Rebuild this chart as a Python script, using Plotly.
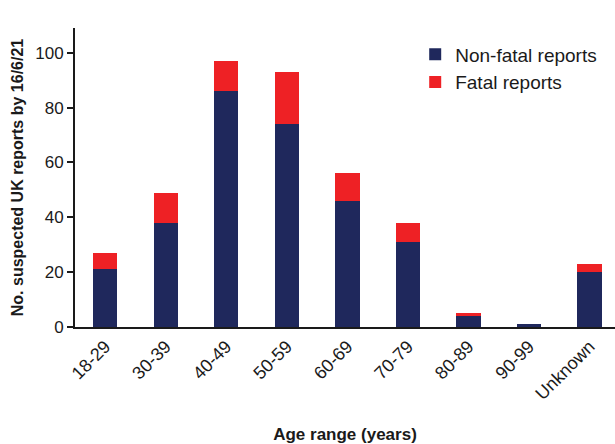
import plotly.graph_objects as go

categories = ["18-29", "30-39", "40-49", "50-59", "60-69", "70-79", "80-89", "90-99", "Unknown"]
non_fatal = [21, 38, 86, 74, 46, 31, 4, 1, 20]
fatal = [6, 11, 11, 19, 10, 7, 1, 0, 3]

NAVY = "#1f285c"
RED = "#ee2125"
FONT = "Liberation Sans, Arial, sans-serif"

fig = go.Figure()
fig.add_trace(go.Bar(x=categories, y=non_fatal, name="Non-fatal reports",
                     marker=dict(color=NAVY, line=dict(width=0)), width=0.4))
fig.add_trace(go.Bar(x=categories, y=fatal, name="Fatal reports",
                     marker=dict(color=RED, line=dict(width=0)), width=0.4))

fig.update_layout(
    barmode="stack",
    width=615, height=444,
    margin=dict(l=75, r=0, t=28, b=117, autoexpand=False),
    paper_bgcolor="white", plot_bgcolor="white",
    font=dict(family=FONT, color="#1a1a1a", size=16),
    showlegend=True,
    legend=dict(traceorder="normal", x=0.63, y=0.975, xanchor="left", yanchor="top",
                font=dict(size=19, family=FONT), itemwidth=30,
                bgcolor="rgba(0,0,0,0)", tracegroupgap=0),
    xaxis=dict(range=[-0.5, 8.42], showline=True, linecolor="#1a1a1a", linewidth=2,
               ticks="", tickangle=-45, tickfont=dict(size=18, family=FONT),
               automargin=False,
               title=dict(text="<b>Age range (years)</b>", font=dict(size=17, family=FONT), standoff=26),
               showgrid=False, zeroline=False),
    yaxis=dict(range=[0, 109], showline=True, linecolor="#1a1a1a", linewidth=2,
               ticks="outside", ticklen=6, tickwidth=1.5, tickcolor="#1a1a1a",
               automargin=False,
               tickvals=[0, 20, 40, 60, 80, 100], tickfont=dict(size=17, family=FONT),
               title=dict(text="<b>No. suspected UK reports by 16/6/21</b>",
                          font=dict(size=16, family=FONT), standoff=8),
               showgrid=False, zeroline=False),
)

fig.write_html("out.html", config={"displayModeBar": False},
               post_script="document.body.style.margin='0';document.body.style.overflow='hidden';")
